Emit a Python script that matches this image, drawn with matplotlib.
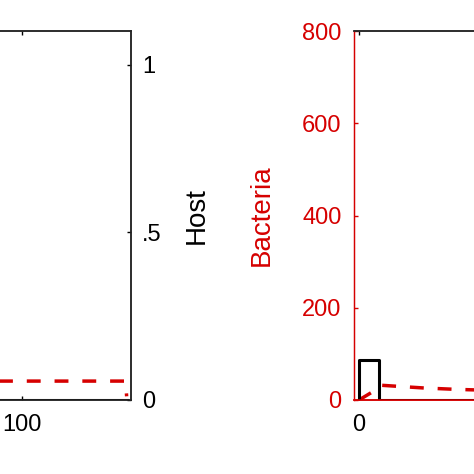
import numpy as np
import matplotlib.pyplot as plt
from matplotlib.ticker import FixedLocator, FixedFormatter

plt.rcParams['font.family'] = ['Liberation Sans', 'DejaVu Sans']

red = '#d60000'
spine_col = '#262626'

# left panel (only its right part is visible)
t_left = [0, 50, 100, 147.5, 148]
bact_left = [41, 41, 41, 41, 8]
host_left_t = [0, 148]
host_left = [0, 0]

# right panel (only its left part is visible)
t_right = [0, 6, 10, 20, 30, 45, 60]
bact_right = [0, 17, 32, 29, 26, 23, 21]
host_right_t = [0, 0, 9, 9, 148]
host_right = [0, 0.12, 0.12, 0, 0]

xticks = [0, 100]
bact_ticks = [0, 200, 400, 600, 800]
host_ticks = [0, 0.5, 1]
host_ticklabels = ['0', '.5', '1']

W = H = 474
fig = plt.figure(figsize=(W / 100, H / 100), dpi=100)


def box(x0, x1, y0=31, y1=400):
    return [x0 / W, (H - y1) / H, (x1 - x0) / W, (y1 - y0) / H]


def style(ax):
    for s in ax.spines.values():
        s.set_color(spine_col)
        s.set_linewidth(1.1)
    ax.tick_params(direction='in', length=3, width=1, labelsize=17,
                   colors='black', pad=7)
    ax.tick_params(axis='x', pad=10)


# ---- left panel
axL = fig.add_axes(box(-200, 131))
axL.plot(t_left, bact_left, color=red, lw=2.5, ls=(0, (4, 4)))
axL.set_xlim(-2, 150)
axL.set_ylim(0, 800)
axL.xaxis.set_major_locator(FixedLocator(xticks))
# the "0" label sits off the visible area
axL.xaxis.set_major_formatter(FixedFormatter(['', '100']))
axL.yaxis.set_major_locator(FixedLocator(bact_ticks))
style(axL)
axL.tick_params(axis='x', top=True)
axL.tick_params(axis='y', labelleft=False)
axL.spines['left'].set_color(red)

axLh = axL.twinx()
axLh.plot(host_left_t, host_left, color='black', lw=2.2)
axLh.set_ylim(0, 1.1)
axLh.yaxis.set_major_locator(FixedLocator(host_ticks))
axLh.yaxis.set_major_formatter(FixedFormatter(host_ticklabels))
style(axLh)
axLh.tick_params(axis='y', pad=8)
axLh.spines['left'].set_color(red)
axLh.set_ylabel('Host', fontsize=20, rotation=90, va='center')
axLh.yaxis.set_label_coords(1.199, 0.5)

# ---- right panel
axR = fig.add_axes(box(354, 685))
axR.plot(t_right, bact_right, color=red, lw=2.5, ls=(0, (4, 4)))
axR.set_xlim(-2.3, 150)
axR.set_ylim(0, 800)
axR.xaxis.set_major_locator(FixedLocator(xticks))
axR.xaxis.set_major_formatter(FixedFormatter(['0', '']))
axR.yaxis.set_major_locator(FixedLocator(bact_ticks))
style(axR)
axR.tick_params(axis='x', top=True)
axR.tick_params(axis='y', colors=red, pad=9)
axR.spines['left'].set_color(red)
axR.spines['left'].set_linewidth(0.9)
axR.spines['bottom'].set_color(red)
axR.set_ylabel('Bacteria', fontsize=20, color=red, va='center')
axR.yaxis.set_label_coords(-0.278, 0.5)

axRh = axR.twinx()
axRh.plot(host_right_t, host_right, color='black', lw=2.2)
axRh.set_ylim(0, 1.1)
axRh.yaxis.set_major_locator(FixedLocator(host_ticks))
style(axRh)
axRh.tick_params(axis='y', labelright=False)
axRh.spines['left'].set_color(red)
axRh.spines['left'].set_linewidth(0.9)
axRh.spines['bottom'].set_color(red)

fig.savefig('out.png', dpi=100)
